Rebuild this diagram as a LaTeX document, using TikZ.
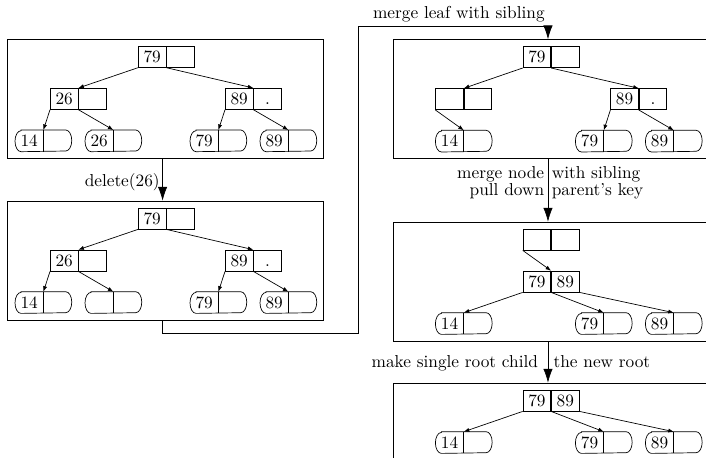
\documentclass[tikz,border=0pt]{standalone}
\usetikzlibrary{arrows.meta}

\tikzset{
  cell/.style={draw, rectangle, minimum width=16.02pt, minimum height=12.15pt,
    inner sep=0pt, text height=6.44pt, text depth=0pt, anchor=north west},
  hcell/.style={cell, draw=none},
  frame/.style={draw, rectangle, minimum width=182.46pt, minimum height=68.84pt,
    inner sep=0pt, anchor=north west},
  ptr/.style={-{Latex[length=3.2pt,width=2.4pt]}},
  flow/.style={-{Latex[length=8pt,width=5.4pt]}},
  lbl/.style={inner sep=0pt},
}

% inner node: two key cells side by side
\newcommand\bnode[4]{%
  \node[cell] (#1a) at (#2) {#3};
  \node[cell, anchor=west] (#1b) at (#1a.east) {#4};}

% leaf: rounded capsule split in two halves, key in the left half
\newcommand\bleaf[3]{%
  \node[hcell] (#1a) at (#2) {#3};
  \node[hcell, anchor=west] (#1b) at (#1a.east) {};
  \draw ([xshift=3.5pt]#1a.north west) -- ([xshift=-3.5pt]#1b.north east)
     arc[start angle=90, end angle=-90, x radius=3.5pt, y radius=6.075pt]
     -- ([xshift=3.5pt]#1a.south west)
     arc[start angle=270, end angle=90, x radius=3.5pt, y radius=6.075pt] -- cycle;
  \draw (#1a.north east) -- (#1a.south east);}

\begin{document}
\begin{tikzpicture}[x=0.5785pt, y=-0.5785pt]
\useasboundingbox (0,0) rectangle (706,457);
\clip (0,0) rectangle (706,457);

% ---- step 1: initial tree
\begin{scope}[shift={(7.3,39)}]
  \node[frame] (f1) at (0,0) {};
  \bnode{ra}{130.7,7}{79}{}
  \bnode{rb}{42.7,49}{26}{}
  \bnode{rc}{217.7,49}{89}{.}
  \bleaf{rd}{7.7,91}{14}
  \bleaf{re}{77.7,91}{26}
  \bleaf{rf}{182.7,91}{79}
  \bleaf{rg}{252.7,91}{89}
  \draw[ptr] (raa.south west) -- (rba.north east);
  \draw[ptr] (raa.south east) -- (rca.north east);
  \draw[ptr] (rba.south west) -- (rda.north east);
  \draw[ptr] (rba.south east) -- (rea.north east);
  \draw[ptr] (rca.south west) -- (rfa.north east);
  \draw[ptr] (rca.south east) -- (rga.north east);
\end{scope}

% ---- step 2: key removed from leaf
\begin{scope}[shift={(7.3,200.7)}]
  \node[frame] (f2) at (0,0) {};
  \bnode{sa}{130.7,7}{79}{}
  \bnode{sb}{42.7,49}{26}{}
  \bnode{sc}{217.7,49}{89}{.}
  \bleaf{sd}{7.7,91}{14}
  \bleaf{se}{77.7,91}{}
  \bleaf{sf}{182.7,91}{79}
  \bleaf{sg}{252.7,91}{89}
  \draw[ptr] (saa.south west) -- (sba.north east);
  \draw[ptr] (saa.south east) -- (sca.north east);
  \draw[ptr] (sba.south west) -- (sda.north east);
  \draw[ptr] (sba.south east) -- (sea.north east);
  \draw[ptr] (sca.south west) -- (sfa.north east);
  \draw[ptr] (sca.south east) -- (sga.north east);
\end{scope}

% ---- step 3: leaves merged
\begin{scope}[shift={(392.7,39.3)}]
  \node[frame] (f3) at (0,0) {};
  \bnode{ta}{130,7}{79}{}
  \bnode{tb}{42.7,49}{}{}
  \bnode{tc}{217.7,49}{89}{.}
  \bleaf{td}{42.7,91}{14}
  \bleaf{tf}{182.7,91}{79}
  \bleaf{tg}{252.7,91}{89}
  \draw[ptr] (taa.south west) -- (tba.north east);
  \draw[ptr] (taa.south east) -- (tca.north east);
  \draw[ptr] (tba.south west) -- (tda.north east);
  \draw[ptr] (tca.south west) -- (tfa.north east);
  \draw[ptr] (tca.south east) -- (tga.north east);
\end{scope}

% ---- step 4: inner nodes merged
\begin{scope}[shift={(392.7,221.7)}]
  \node[frame] (f4) at (0,0) {};
  \bnode{ua}{130,7}{}{}
  \bnode{ub}{130,49}{79}{89}
  \bleaf{ud}{42.7,91}{14}
  \bleaf{uf}{182.7,91}{79}
  \bleaf{ug}{252.7,91}{89}
  \draw[ptr] (uaa.south west) -- (uba.north east);
  \draw[ptr] (uba.south west) -- (uda.north east);
  \draw[ptr] (uba.south east) -- (ufa.north east);
  \draw[ptr] (ubb.south east) -- (uga.north east);
\end{scope}

% ---- step 5: final tree
\begin{scope}[shift={(392.7,382.7)}]
  \node[frame] (f5) at (0,0) {};
  \bnode{va}{130,7}{79}{89}
  \bleaf{vd}{42.7,49}{14}
  \bleaf{vf}{182.7,49}{79}
  \bleaf{vg}{252.7,49}{89}
  \draw[ptr] (vaa.south west) -- (vda.north east);
  \draw[ptr] (vaa.south east) -- (vfa.north east);
  \draw[ptr] (vab.south east) -- (vga.north east);
\end{scope}

% ---- transitions between steps
\draw[flow] ([xshift=-1.6pt]f1.south) -- ([xshift=-1.6pt]f2.north);
\node[lbl, anchor=base east] (l1) at (160,186) {delete(26)};

\coordinate (k1) at (358.3,333);
\coordinate (k2) at (358.3,26);
\draw[flow] ([xshift=-1.6pt]f2.south) |- (k1) -- (k2) -| ([xshift=-1.6pt]f3.north);
\node[lbl, anchor=base east] (l2) at (545,18.3) {merge leaf with sibling};

\draw[flow] ([xshift=-1.6pt]f3.south) -- ([xshift=-1.6pt]f4.north);
\node[lbl, anchor=base east] (l3a) at (544.5,178.3) {merge node};
\node[lbl, anchor=base east] (l3b) at (544.5,195.7) {pull down};
\node[lbl, anchor=base west] (l3c) at (551.5,178.3) {with sibling};
\node[lbl, anchor=base west] (l3d) at (551.5,195.7) {parent's key};

\draw[flow] ([xshift=-1.6pt]f4.south) -- ([xshift=-1.6pt]f5.north);
\node[lbl, anchor=base east] (l4a) at (538.3,367) {make single root child};
\node[lbl, anchor=base west] (l4b) at (553.3,367) {the new root};
\end{tikzpicture}
\end{document}
